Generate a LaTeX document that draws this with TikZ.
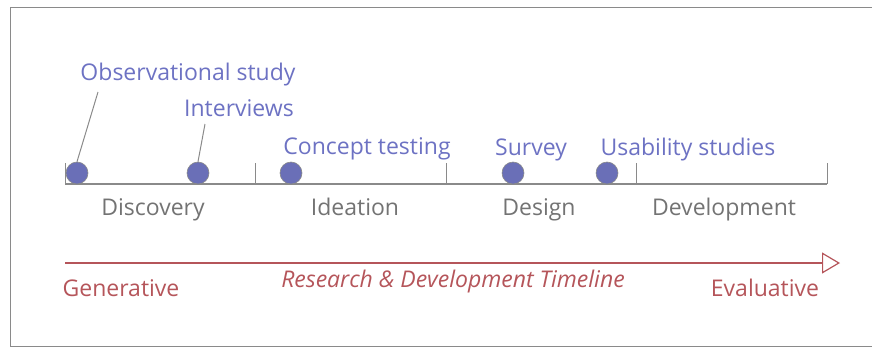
\documentclass[tikz,border=0pt]{standalone}
\usepackage{fontspec}
\setmainfont{Open Sans}
\usetikzlibrary{arrows.meta}
\definecolor{dotblue}{HTML}{6A6FB7}
\definecolor{labelblue}{HTML}{6D72C3}
\definecolor{phasegray}{HTML}{737373}
\definecolor{axisgray}{HTML}{8A8A8A}
\definecolor{timered}{HTML}{B5555A}
\newcommand{\bigfont}{\fontsize{23}{27}\selectfont}
\tikzset{every path/.style={line width=1pt}}
\tikzset{method/.style={circle,fill=dotblue,draw=axisgray,line width=.6pt,minimum size=22pt,inner sep=0pt},
  methodlabel/.style={text=labelblue,font=\bigfont,inner sep=0pt,anchor=base},
  phaselabel/.style={text=phasegray,font=\bigfont,inner sep=0pt,anchor=base},
  endlabel/.style={text=timered,font=\bigfont,inner sep=0pt,anchor=base}}

\begin{document}
\begin{tikzpicture}[x=1pt,y=-1pt]
\useasboundingbox (0,0) rectangle (872,348);
\draw[axisgray] (872,7) -- (10,7) -- (10,346) -- (872,346);
% axis and phase ticks
\coordinate (t0) at (65,184);
\coordinate (t1) at (255,184);
\coordinate (t2) at (446,184);
\coordinate (t3) at (636,184);
\coordinate (t4) at (827,184);
\draw[axisgray, line width=1.3pt] (t0) -- (t4);
\foreach \t in {t0,t1,t2,t3,t4}
  \draw[axisgray] (\t) -- ++(0,-21);
\node[phaselabel] (discovery) at (153,215) {Discovery};
\node[phaselabel] (ideation) at (355,215) {Ideation};
\node[phaselabel] (design) at (539,215) {Design};
\node[phaselabel] (development) at (724,215) {Development};
% research methods
\node[method] (obs) at (77,173) {};
\node[method] (int) at (198,173) {};
\node[method] (con) at (291,173) {};
\node[method] (sur) at (513,173) {};
\node[method] (usa) at (607,173) {};
\node[methodlabel] (obslabel) at (188,80) {Observational study};
\node[methodlabel] (intlabel) at (239,116) {Interviews};
\node[methodlabel] (conlabel) at (367,154) {Concept testing};
\node[methodlabel] (surlabel) at (531,155) {Survey};
\node[methodlabel] (usalabel) at (688,155) {Usability studies};
\draw[axisgray] (98,92) -- (obs.north);
\draw[axisgray] (205,124) -- (int.north);
% timeline
\coordinate (start) at (65,263);
\coordinate (stop) at (840,263);
\draw[timered, line width=1.2pt, -{Triangle[open,length=18pt,width=21pt]}] (start) -- (stop);
\node[endlabel] (gen) at (121,296) {Generative};
\node[endlabel, font=\bigfont\itshape] (title) at (453,287) {Research \& Development Timeline};
\node[endlabel] (eval) at (765,296) {Evaluative};
\end{tikzpicture}
\end{document}
